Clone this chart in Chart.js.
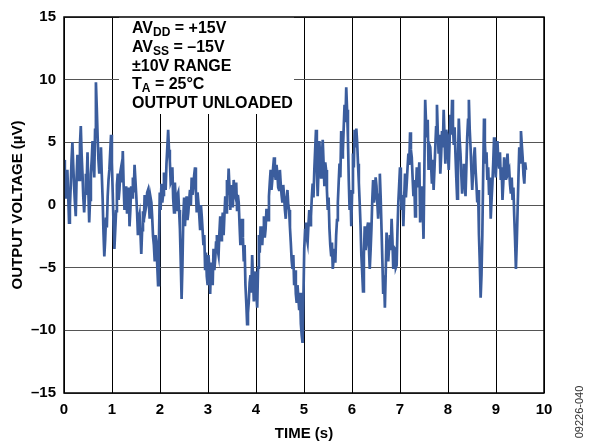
<!DOCTYPE html>
<html lang="en">
<head>
<meta charset="UTF-8">
<title>Output voltage noise</title>
<script src="https://cdn.jsdelivr.net/npm/chart.js"></script>
<style>
  html, body { margin: 0; padding: 0; background: #fff; }
  canvas { display: block; }
</style>
</head>
<body>
<canvas id="noise-chart" width="589" height="448"></canvas>
<script>
const timeStep = 0.0175;
const noiseA = [3.6, 1.8, 0.5, 1.2, 2.8, 0.8, -1.4, -0.2, 1.5, 3.6,
  5.0, 3.2, 1.5, 0.2, -0.9, 2.2, 4.0, 3.0, 2.0, 4.8,
  6.3, 4.0, 2.5, 0.6, -0.6, 0.9, 2.5, 1.8, 4.2, 1.2,
  -1.4, 0.4, 2.5, 3.6, 5.1, 3.4, 2.2, 6.0, 9.8, 7.8,
  5.5, 3.6, 2.5, 3.8, 4.6, 2.4, 0.5, -2.2, -4.1, -2.8,
  -1.0, -1.8, 0.7, 2.0, 2.8, 4.2, 5.6, 3.4, 1.0, -1.6,
  -3.5, -2.0, -0.5, 1.6, 2.5, 0.4, 1.2, 2.6, 3.0, 1.8,
  4.3, 1.6, -0.4, 0.6, 1.5, -0.6, 0.5, 1.4, -1.7, -0.4,
  1.5, 0.6, 2.2, 1.0, 3.2, 2.0, 0.8, -0.6, -2.4, -1.2,
  -0.8, -2.2, -3.9, -2.0, -0.5, -1.4, 0.8, -0.4, 0.0, 1.0,
  1.2, 0.2, -1.1, 0.6, 0.2, -1.0, -2.5, -3.2, -4.5, -2.4,
  -3.0, -4.8, -6.4, -3.0, 1.0, -0.4, 1.7, 0.2, 0.8, 2.6,
  2.0, 1.2, 3.3, 4.6, 6.0, 4.4, 3.5, 1.8, 2.0, 3.0,
  0.5, -0.6, 1.8, 0.4, -0.5, 0.8, 1.0, -0.4, -1.9, -4.6,
  -7.5, -4.8, -1.0, 0.6];
const noiseB = [-1.7, -0.2, 0.7, -1.2, -0.6, 0.4, 1.2, 0.0, 2.2, 0.8,
  1.5, 2.4, 3.0, 1.2, -0.6, 1.0, 0.2, -0.8, -1.9, 0.0,
  -0.9, -2.0, -3.2, -2.4, -5.1, -3.8, -5.7, -6.4, -4.0, -5.0,
  -7.1, -4.6, -5.6, -6.4, -3.5, -5.2, -4.3, -3.0, -2.4, -3.6,
  -4.0, -2.2, -0.9, -2.8, -1.7, -0.6, -2.4, -0.8, 0.7, -0.6,
  2.0, 0.8, 2.9, 1.4, -0.4, 1.6, 0.9, -0.2, 2.0, 1.0,
  0.7, 1.8, -0.4, 0.8, 0.2, -1.6, -3.2, -1.8, -1.1, -2.6,
  -4.5, -3.2, -6.4, -7.8, -9.5, -8.6, -7.7, -6.2, -5.6, -7.0,
  -4.0, -5.8, -7.7, -6.4, -5.3, -7.2, -8.2, -5.0, -2.4, -3.8,
  -1.7, -2.4, -3.2, -1.8, -0.9, -2.6, -1.9, -0.4, -0.4, -1.2,
  0.7, 1.8, 2.8, 1.2, 2.0, 3.0, 3.8, 2.6, 2.0, 3.2,
  2.5, 1.4, 1.2, 2.8, 1.7, 0.8, 0.2, 1.6, 0.7, -0.4,
  -1.1, 0.4, 1.2, 0.0, -0.4, -1.8, -3.0, -4.4, -5.1, -4.0,
  -6.4, -5.2, -7.1, -7.8, -6.4, -7.4, -8.4, -7.0, -9.5, -10.4];
const noiseC = [-11.0, -7.5, -3.5, -2.0, -1.4, -2.6, -3.0, -1.6, -0.4, -1.6,
  -0.9, 0.6, 1.7, 0.6, 2.8, 4.4, 6.0, 3.0, 0.7, 2.8,
  5.1, 3.6, 2.2, 3.8, 5.2, 3.4, 1.5, 3.4, 2.8, 1.2,
  -0.4, 0.6, -1.9, -3.2, -4.0, -3.0, -5.1, -4.2, -3.5, -4.6,
  -2.4, -1.2, 0.2, 1.8, 3.3, 2.2, 5.9, 3.8, 4.3, 6.2,
  8.0, 6.6, 9.4, 7.6, 5.4, 2.0, -0.4, 1.2, -1.7, 1.0,
  4.1, 3.0, 6.0, 4.6, 6.1, 5.0, 3.3, 1.8, 0.2, -1.6,
  -4.0, -5.4, -6.9, -4.0, -1.7, -3.6, -3.0, -1.8, -1.4, -3.4,
  -5.1, -3.6, -1.9, 0.4, 2.0, 0.2, 0.7, 2.2, 1.5, 0.2,
  -1.1, 0.8, 2.5, 0.6, -1.9, -4.4, -7.1, -5.6, -8.2, -5.4,
  -2.2, -3.0, -4.5, -3.4, -2.4, -3.6, -1.1, -2.8, -5.1, -3.4,
  -3.5, -5.0, -4.8, -2.0, 0.2, 1.6, 3.0, 1.2, -0.4, 0.8,
  -1.7, 0.6, 2.5, 0.6, 1.7, 3.0, 4.1, 3.2, 5.8, 4.4,
  3.8, 2.2, 0.7, 2.0, -0.9, 1.2, 3.0, 1.4, 2.0, 3.4,
  -1.4, 0.2, 1.5, -0.2, -2.7, 2.8];
const noiseD = [8.4, 6.6, 5.4, 6.8, 2.8, 4.8, 4.6, 3.2, 1.7, 3.6,
  1.2, 2.8, 4.6, 6.2, 8.0, 5.8, 4.1, 5.6, 2.5, 4.0,
  5.9, 4.6, 7.6, 5.4, 3.3, 6.0, 5.6, 4.2, 2.8, 5.0,
  7.2, 5.6, 8.4, 6.4, 4.8, 6.2, 4.1, 2.2, 0.5, 3.4,
  6.9, 5.2, 4.1, 2.4, 0.9, 2.6, 3.3, 1.8, 0.7, 3.0,
  5.4, 6.8, 8.4, 6.0, 4.6, 2.8, 1.2, 2.6, 3.8, 4.6,
  2.8, 1.6, 0.2, 1.2, -2.4, -4.6, -7.4, -5.6, -2.4, 2.4,
  6.9, 5.0, 3.3, 4.2, 2.0, 3.0, 0.9, 2.2, -1.1, 0.4,
  1.7, 3.4, 5.4, 3.6, 2.2, 3.8, 5.1, 3.6, 3.0, 4.2,
  2.0, 3.0, 0.4, 1.8, 3.8, 2.6, 2.0, 3.2, 4.1, 2.6,
  2.8, 1.6, 0.9, 2.2, 0.4, 1.4, -0.9, -2.8, -5.1, -3.0,
  -0.4, 2.2, 4.6, 3.4, 5.9, 4.8, 3.8, 2.4, 1.7, 3.4,
  2.8];

const timeRange = [0, 10];
const voltRange = [-15, 15];
const noteLines = [
  ['AV', 'DD', ' = +15V'],
  ['AV', 'SS', ' = \u201315V'],
  ['\u00b110V RANGE'],
  ['T', 'A', ' = 25\u00b0C'],
  ['OUTPUT UNLOADED']
];
const figureId = '09226-040';

const voltage = noiseA.concat(noiseB, noiseC, noiseD);
const points = voltage.map((v, i) => ({ x: i * timeStep, y: v }));

const FONT = '"Liberation Sans", Arial, Helvetica, sans-serif';
const tickFont = { family: FONT, size: 15, weight: 'bold' };
const titleFont = { family: FONT, size: 15, weight: 'bold' };

// white box behind the conditions text, frame, text and figure id
const decorations = {
  id: 'decorations',
  beforeDatasetsDraw(chart) {
    const ctx = chart.ctx;
    ctx.save();
    ctx.fillStyle = '#fff';
    ctx.fillRect(119, 15, 175, 99);
    ctx.restore();
  },
  afterDraw(chart) {
    const { ctx, chartArea: a } = chart;
    ctx.save();
    ctx.strokeStyle = '#000';
    ctx.lineWidth = 1.5;
    ctx.strokeRect(a.left, a.top, a.right - a.left, a.bottom - a.top);

    ctx.fillStyle = '#000';
    ctx.textBaseline = 'alphabetic';
    noteLines.forEach((parts, row) => {
      let x = 132;
      const y = 33 + row * 18.8;
      parts.forEach((txt, k) => {
        const sub = k % 2 === 1;
        ctx.font = 'bold ' + (sub ? 12 : 16) + 'px ' + FONT;
        ctx.fillText(txt, x, sub ? y + 3 : y);
        x += ctx.measureText(txt).width;
      });
    });

    ctx.translate(580, 412);
    ctx.rotate(-Math.PI / 2);
    ctx.font = '11px ' + FONT;
    ctx.fillStyle = '#333';
    ctx.textAlign = 'center';
    ctx.textBaseline = 'middle';
    ctx.fillText(figureId, 0, 0);
    ctx.restore();
  }
};

new Chart(document.getElementById('noise-chart'), {
  type: 'line',
  data: {
    datasets: [{
      data: points,
      borderColor: '#3b5d9d',
      borderWidth: 2.7,
      pointRadius: 0,
      tension: 0,
      fill: false
    }]
  },
  options: {
    responsive: false,
    animation: false,
    layout: { padding: { top: 10, right: 45, left: 0, bottom: 0 } },
    plugins: { legend: { display: false }, tooltip: { enabled: false } },
    scales: {
      x: {
        type: 'linear',
        min: timeRange[0],
        max: timeRange[1],
        ticks: { stepSize: 1, font: tickFont, color: '#000', padding: 8, maxRotation: 0, autoSkip: false },
        grid: { color: '#000', lineWidth: 1, drawTicks: false },
        border: { display: false },
        title: { display: true, text: 'TIME (s)', font: titleFont, color: '#000', padding: { top: 0, bottom: 5 } },
        afterFit(s) { s.height = 55; }
      },
      y: {
        type: 'linear',
        min: voltRange[0],
        max: voltRange[1],
        ticks: {
          stepSize: 5, font: tickFont, color: '#000', padding: 8,
          callback: v => String(v).replace('-', '\u2013')
        },
        grid: { color: '#555', lineWidth: 1, drawTicks: false },
        border: { display: false },
        title: { display: true, text: 'OUTPUT VOLTAGE (\u00b5V)', font: titleFont, color: '#000', padding: { top: 9, bottom: 0 } },
        afterFit(s) { s.width = 64; }
      }
    }
  },
  plugins: [decorations]
});
</script>
</body>
</html>
